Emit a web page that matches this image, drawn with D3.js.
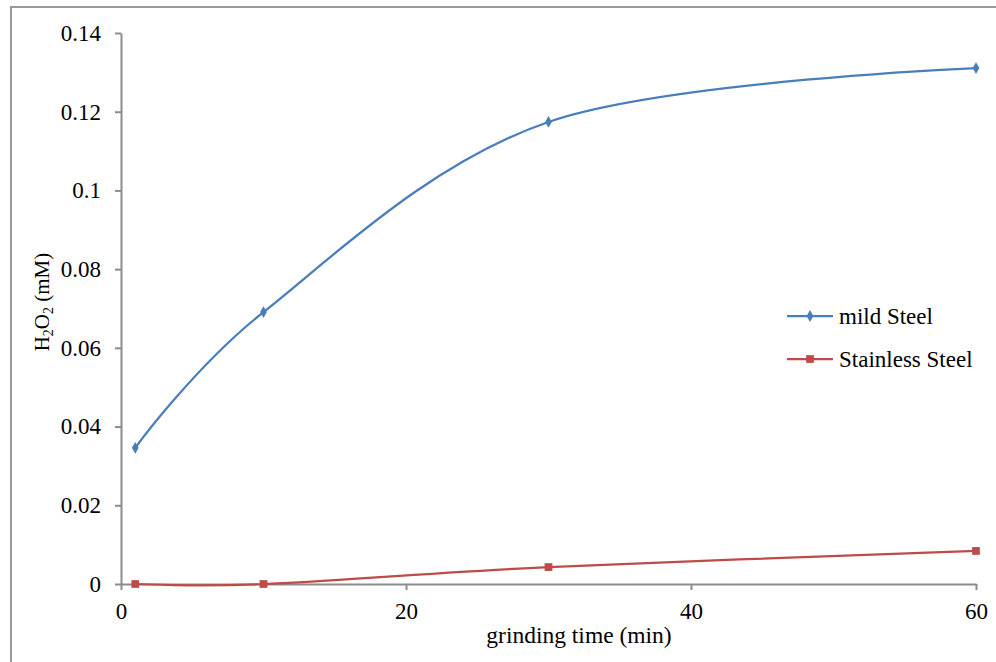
<!DOCTYPE html>
<html><head><meta charset="utf-8">
<script src="https://cdn.jsdelivr.net/npm/d3@7"></script>
<style>body{margin:0;background:#fff}svg{display:block}</style>
</head><body>
<svg id="c" width="996" height="662"></svg>
<script>
const times = [1, 10, 30, 60];
const mildSteel = [0.0346, 0.0691, 0.1174, 0.1311];
const stainlessSteel = [0.0, 0.0, 0.0043, 0.0084];
const seriesNames = ["mild Steel", "Stainless Steel"];
const xTicks = [0, 20, 40, 60];
const yTicks = [0, 0.02, 0.04, 0.06, 0.08, 0.1, 0.12, 0.14];

const svg = d3.select("#c");
const font = "'Liberation Serif','Times New Roman',serif";
svg.append("rect").attr("x", 11).attr("y", 7).attr("width", 1000).attr("height", 700)
  .attr("fill", "#fff").attr("stroke", "#9a9a9a").attr("stroke-width", 2);

const x = d3.scaleLinear().domain([0, 60]).range([121, 976]);
const y = d3.scaleLinear().domain([0, 0.14]).range([584, 33]);

const gx = svg.append("g").attr("transform", "translate(0,584)")
  .call(d3.axisBottom(x).tickValues(xTicks).tickSize(6).tickSizeOuter(0).tickPadding(13));
const gy = svg.append("g").attr("transform", "translate(121,0)")
  .call(d3.axisLeft(y).tickValues(yTicks).tickSize(6).tickSizeOuter(0).tickPadding(14)
    .tickFormat(d => d === 0 ? "0" : String(+d.toFixed(2))));
[gx, gy].forEach(g => {
  g.selectAll("path,line").attr("stroke", "#8c8c8c").attr("stroke-width", 2);
  g.selectAll("text").attr("font-family", font).attr("font-size", 23).attr("fill", "#000");
});

const line = d3.line().x(d => x(d[0])).y(d => y(d[1])).curve(d3.curveCatmullRom.alpha(0));
const series = [
  {vals: mildSteel, color: "#4a7ebb", shape: "diamond"},
  {vals: stainlessSteel, color: "#be4b48", shape: "square"}
];
series.forEach(s => {
  const pts = times.map((t, i) => [t, s.vals[i]]);
  svg.append("path").attr("d", line(pts)).attr("fill", "none")
    .attr("stroke", s.color).attr("stroke-width", 2.25);
  svg.selectAll(null).data(pts).enter().append("path")
    .attr("transform", d => `translate(${x(d[0])},${y(d[1])})`)
    .attr("d", s.shape === "diamond"
      ? d3.symbol(d3.symbolDiamond, 40)()
      : d3.symbol(d3.symbolSquare, 60)())
    .attr("fill", s.color);
});

// legend
const leg = svg.append("g");
series.forEach((s, i) => {
  const ly = 316 + i * 43;
  leg.append("line").attr("x1", 787).attr("x2", 833).attr("y1", ly).attr("y2", ly)
    .attr("stroke", s.color).attr("stroke-width", 2.25);
  leg.append("path").attr("transform", `translate(810,${ly})`)
    .attr("d", s.shape === "diamond" ? d3.symbol(d3.symbolDiamond, 40)() : d3.symbol(d3.symbolSquare, 60)())
    .attr("fill", s.color);
  leg.append("text").attr("x", 839).attr("y", ly + 8).text(seriesNames[i])
    .attr("font-family", font).attr("font-size", 23).attr("fill", "#000");
});

// axis titles
svg.append("text").attr("x", 579).attr("y", 643).attr("text-anchor", "middle")
  .attr("font-family", font).attr("font-size", 23.5).text("grinding time (min)");
const yt = svg.append("text").attr("transform", "translate(49,302) rotate(-90)")
  .attr("text-anchor", "middle").attr("font-family", font).attr("font-size", 21);
yt.append("tspan").text("H");
yt.append("tspan").attr("dy", 4).attr("font-size", 14).text("2");
yt.append("tspan").attr("dy", -4).text("O");
yt.append("tspan").attr("dy", 4).attr("font-size", 14).text("2");
yt.append("tspan").attr("dy", -4).text(" (mM)");
</script>
</body></html>
